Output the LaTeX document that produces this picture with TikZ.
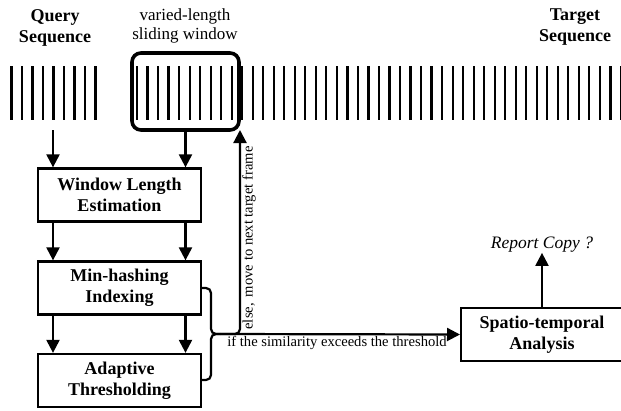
\documentclass[tikz,border=0pt]{standalone}
\usepackage{fontspec}
\setmainfont{Liberation Serif}
\usetikzlibrary{arrows.meta}
\begin{document}
\begin{tikzpicture}[x=1pt,y=-1pt,
  bar/.style={line width=2.2pt},
  arr/.style={line width=2.2pt,-{Triangle[length=13pt,width=13pt]}},
  procbox/.style={draw,line width=2.3pt,minimum width=163pt,minimum height=53pt,align=center,
    font=\fontsize{18}{21}\selectfont\bfseries,inner sep=0pt},
  lbl/.style={font=\fontsize{18}{21}\selectfont\bfseries,align=center,inner sep=0pt},
  small/.style={font=\fontsize{14.6}{17}\selectfont,inner sep=0pt}]
\useasboundingbox (0,0) rectangle (621,410);
% bars
\foreach \i in {0,...,8}{\draw[bar] (11.5+10.5*\i,66) -- (11.5+10.5*\i,120);}
\foreach \i in {0,...,46}{\draw[bar] (137+10.52*\i,66) -- (137+10.52*\i,120);}
% titles
\node[lbl] (q) at (55,28) {Query\\Sequence};
\node[lbl] (t) at (575,27) {Target\\Sequence};
\node[font=\fontsize{17}{19}\selectfont,align=center,inner sep=0pt] (vw) at (185,26) {varied-length\\sliding window};
% window
\node[draw,line width=3.6pt,rounded corners=9pt,minimum width=107pt,minimum height=77pt,inner sep=0pt] (win) at (185.5,91.5) {};
% boxes
\node[procbox] (b1) at (119.5,195) {Window Length\\Estimation};
\node[procbox] (b2) at (119.5,288) {Min-hashing\\Indexing};
\node[procbox] (b3) at (119.5,380.5) {Adaptive\\Thresholding};
\node[procbox,minimum width=180pt,anchor=west] (sp) at (460,334.5) {};
\node[lbl] (spt) at (542,334.5) {Spatio-temporal\\Analysis};
\node[font=\fontsize{17.5}{20}\selectfont\itshape,inner sep=0pt] (rep) at (542,245) {Report Copy ?};
% arrows
\coordinate (qa) at (53,130);
\draw[arr] (qa) -- (b1.north -| qa);
\draw[arr] (win.south) -- (b1.north -| win.south);
\draw[arr] (b1.south -| qa) -- (b2.north -| qa);
\draw[arr] (b1.south -| win.south) -- (b2.north -| win.south);
\draw[arr] (b2.south -| qa) -- (b3.north -| qa);
\draw[arr] (b2.south -| win.south) -- (b3.north -| win.south);
\draw[arr] (sp.north -| spt) -- (rep.south);
% brace
\coordinate (tip) at (220,334);
\draw[line width=2.2pt,rounded corners=5pt] (201,288) -- (211,288) -- (211,334) -- (tip);
\draw[line width=2.2pt,rounded corners=5pt] (201,380) -- (211,380) -- (211,334) -- (tip);
% main line
\draw[arr] (tip) -- (sp.west);
\coordinate (ecorner) at (240,334);
\draw[arr,rounded corners=5pt] (tip) -- (ecorner) -- (240,130);
\node[small] (ifl) at (337,343) {if the similarity exceeds the threshold};
\node[small,rotate=90] (el) at (249,238) {else,\, move to next target frame};
\end{tikzpicture}
\end{document}
